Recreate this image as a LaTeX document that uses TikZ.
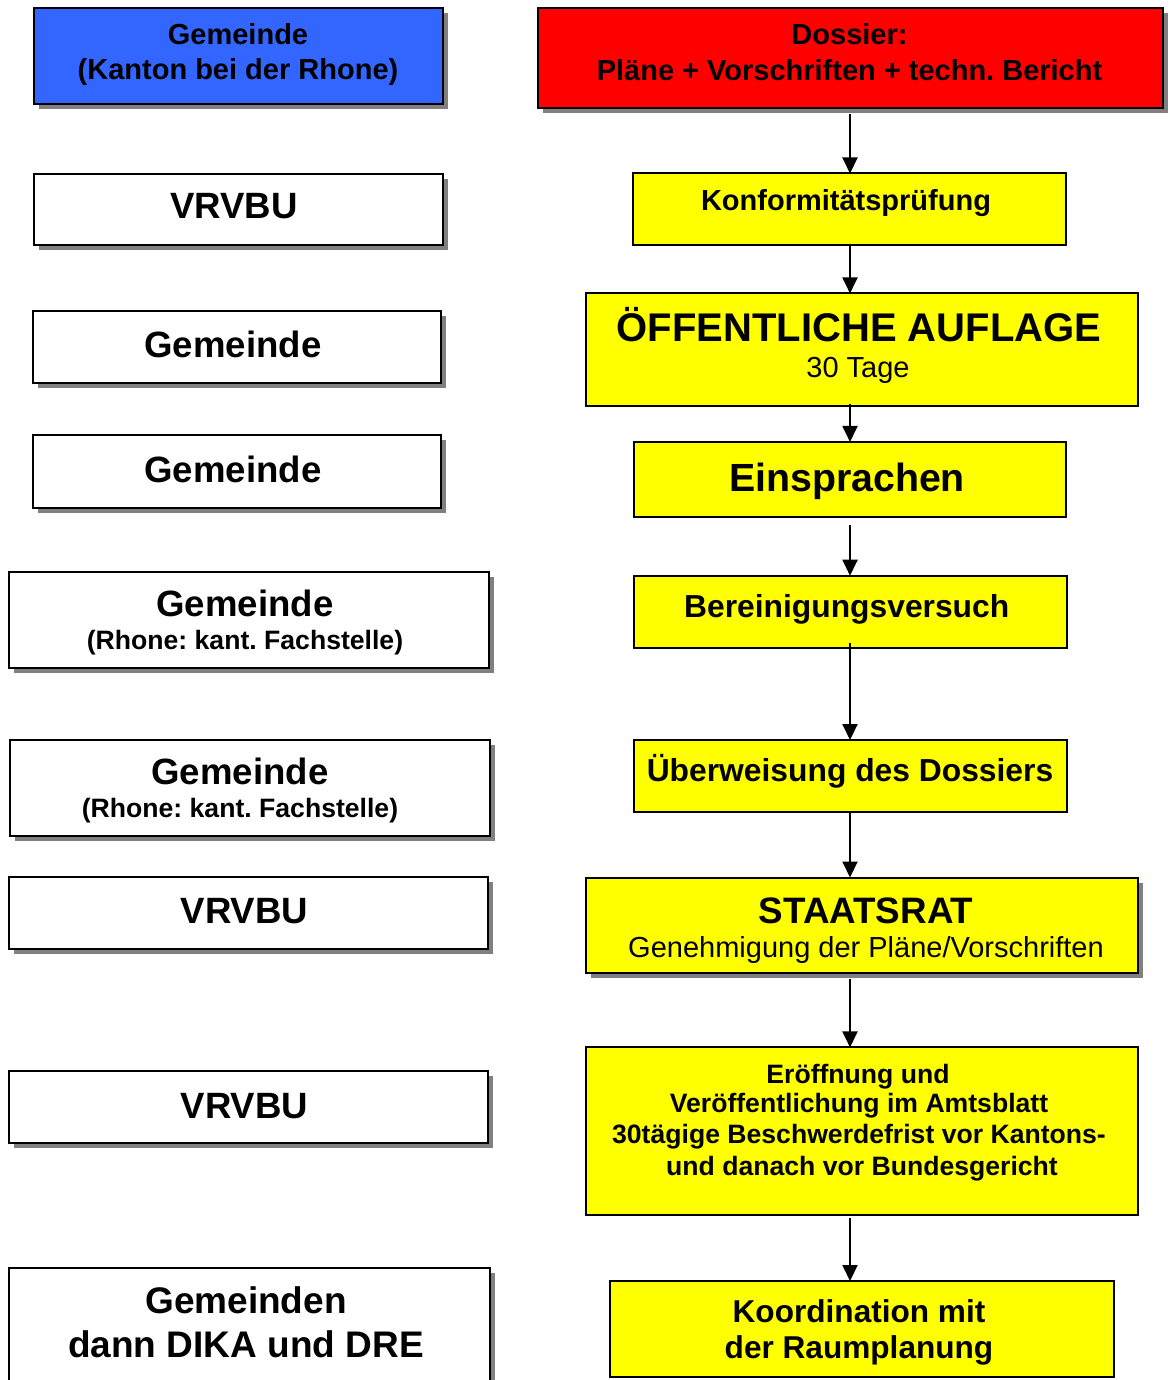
\documentclass[tikz,border=0pt]{standalone}
\usepackage{fontspec}
\setmainfont{Liberation Sans}
\usetikzlibrary{shadows,arrows.meta}
\definecolor{bluebox}{HTML}{3366FF}
\definecolor{redbox}{HTML}{FF0000}
\definecolor{yellowbox}{HTML}{FFFF00}
\definecolor{shadowgray}{HTML}{808080}
\newcommand{\fsz}[1]{\fontsize{#1}{#1}\selectfont}
\frenchspacing
\tikzset{
  boxbase/.style={draw=black, line width=2pt, rectangle, inner sep=0pt, outer sep=0pt},
  shad/.style={drop shadow={shadow xshift=5pt, shadow yshift=-5pt, fill=shadowgray, opacity=1}},
  whitebox/.style={boxbase, fill=white, shad},
  bluenode/.style={boxbase, fill=bluebox, shad},
  rednode/.style={boxbase, fill=redbox, shad},
  yellownode/.style={boxbase, fill=yellowbox},
  yellowshad/.style={boxbase, fill=yellowbox, shad},
  txt/.style={anchor=base, inner sep=0pt, outer sep=0pt},
  arr/.style={line width=2pt, -{Triangle[width=15pt,length=16pt]}},
}
\begin{document}
\begin{tikzpicture}[x=1pt,y=-1pt]
\useasboundingbox (0,0) rectangle (1174,1380);
\clip (0,0) rectangle (1174,1380);
\fill[white] (0,0) rectangle (1174,1380);

% ---------- left column ----------
\node[bluenode, minimum width=409pt, minimum height=96pt] (L1) at (238.5,56) {};
\node[txt, font=\fsz{29}\bfseries] (L1a) at (238,45) {Gemeinde};
\node[txt, font=\fsz{29}\bfseries] (L1b) at (238,80) {(Kanton bei der Rhone)};

\node[whitebox, minimum width=409pt, minimum height=71pt] (L2) at (238.5,209.5) {};
\node[txt, font=\fsz{36.6}\bfseries] (L2a) at (234,219) {VRVBU};

\node[whitebox, minimum width=408pt, minimum height=72pt] (L3) at (237,347) {};
\node[txt, font=\fsz{36.6}\bfseries] (L3a) at (233,357) {Gemeinde};

\node[whitebox, minimum width=408pt, minimum height=72.5pt] (L4) at (237,471.7) {};
\node[txt, font=\fsz{36.6}\bfseries] (L4a) at (233,482) {Gemeinde};

\node[whitebox, minimum width=480pt, minimum height=96pt] (L5) at (249,620) {};
\node[txt, font=\fsz{36.6}\bfseries] (L5a) at (245,616) {Gemeinde};
\node[txt, font=\fsz{26.6}\bfseries] (L5b) at (245,649) {(Rhone: kant. Fachstelle)};

\node[whitebox, minimum width=480pt, minimum height=96pt] (L6) at (249.5,788) {};
\node[txt, font=\fsz{36.6}\bfseries] (L6a) at (240,784) {Gemeinde};
\node[txt, font=\fsz{26.6}\bfseries] (L6b) at (240,817) {(Rhone: kant. Fachstelle)};

\node[whitebox, minimum width=479pt, minimum height=72pt] (L7) at (248.7,913) {};
\node[txt, font=\fsz{36.6}\bfseries] (L7a) at (244.5,923) {VRVBU};

\node[whitebox, minimum width=479pt, minimum height=72pt] (L8) at (248.7,1107) {};
\node[txt, font=\fsz{36.6}\bfseries] (L8a) at (244.5,1118) {VRVBU};

\node[whitebox, minimum width=481pt, minimum height=132pt] (L9) at (249.7,1334) {};
\node[txt, font=\fsz{37}\bfseries] (L9a) at (246,1313) {Gemeinden};
\node[txt, font=\fsz{37}\bfseries] (L9b) at (246,1357) {dann DIKA und DRE};

% ---------- right column ----------
\coordinate (ax) at (850,0);

\node[rednode, minimum width=625pt, minimum height=100pt] (R1) at (850,58) {};
\node[txt, font=\fsz{29}\bfseries] (R1a) at (849.5,45) {Dossier:};
\node[txt, font=\fsz{29}\bfseries] (R1b) at (849.5,81) {Pläne + Vorschriften + techn. Bericht};

\node[yellownode, minimum width=432.5pt, minimum height=72pt] (R2) at (849.7,209.5) {};
\node[txt, font=\fsz{29}\bfseries] (R2a) at (846,211) {Konformitätsprüfung};

\node[yellownode, minimum width=552.5pt, minimum height=112.5pt] (R3) at (862.2,349.7) {};
\node[txt, font=\fsz{40}\bfseries] (R3a) at (859,341) {ÖFFENTLICHE AUFLAGE};
\node[txt, font=\fsz{29}] (R3b) at (858,377) {30 Tage};

\node[yellownode, minimum width=432.5pt, minimum height=75.5pt] (R4) at (850.2,479.7) {};
\node[txt, font=\fsz{39.3}\bfseries] (R4a) at (847,491) {Einsprachen};

\node[yellownode, minimum width=433pt, minimum height=72.6pt] (R5) at (850.2,612) {};
\node[txt, font=\fsz{31.8}\bfseries] (R5a) at (846.7,617) {Bereinigungsversuch};

\node[yellownode, minimum width=433pt, minimum height=72pt] (R6) at (850.2,776) {};
\node[txt, font=\fsz{31.8}\bfseries] (R6a) at (850,781) {Überweisung des Dossiers};

\node[yellowshad, minimum width=552.5pt, minimum height=95pt] (R7) at (862.2,925) {};
\node[txt, font=\fsz{36.8}\bfseries] (R7a) at (866,923) {STAATSRAT};
\node[txt, font=\fsz{29}] (R7b) at (866,957) {Genehmigung der Pläne/Vorschriften};

\node[yellownode, minimum width=552.5pt, minimum height=167.5pt] (R8) at (862.2,1131.2) {};
\node[txt, font=\fsz{26.6}\bfseries] (R8a) at (858,1083) {Eröffnung und};
\node[txt, font=\fsz{26.6}\bfseries] (R8b) at (859,1112.5) {Veröffentlichung im Amtsblatt};
\node[txt, font=\fsz{26.6}\bfseries] (R8c) at (859,1143.5) {30tägige Beschwerdefrist vor Kantons-};
\node[txt, font=\fsz{26.6}\bfseries] (R8d) at (862,1175) {und danach vor Bundesgericht};

\node[yellownode, minimum width=504pt, minimum height=96pt] (R9) at (862,1329) {};
\node[txt, font=\fsz{31.6}\bfseries] (R9a) at (859,1322) {Koordination mit};
\node[txt, font=\fsz{31.6}\bfseries] (R9b) at (859,1358) {der Raumplanung};

% ---------- connectors ----------
\draw[arr] ([yshift=-6pt]R1.south -| ax) -- (R2.north -| ax);
\draw[arr] (R2.south -| ax) -- (R3.north -| ax);
\draw[arr] ([yshift=2pt]R3.south -| ax) -- (R4.north -| ax);
\draw[arr] ([yshift=-8pt]R4.south -| ax) -- (R5.north -| ax);
\draw[arr] ([yshift=5pt]R5.south -| ax) -- (R6.north -| ax);
\draw[arr] (R6.south -| ax) -- (R7.north -| ax);
\draw[arr] ([yshift=-6pt]R7.south -| ax) -- (R8.north -| ax);
\draw[arr] ([yshift=-3pt]R8.south -| ax) -- (R9.north -| ax);
\end{tikzpicture}
\end{document}
